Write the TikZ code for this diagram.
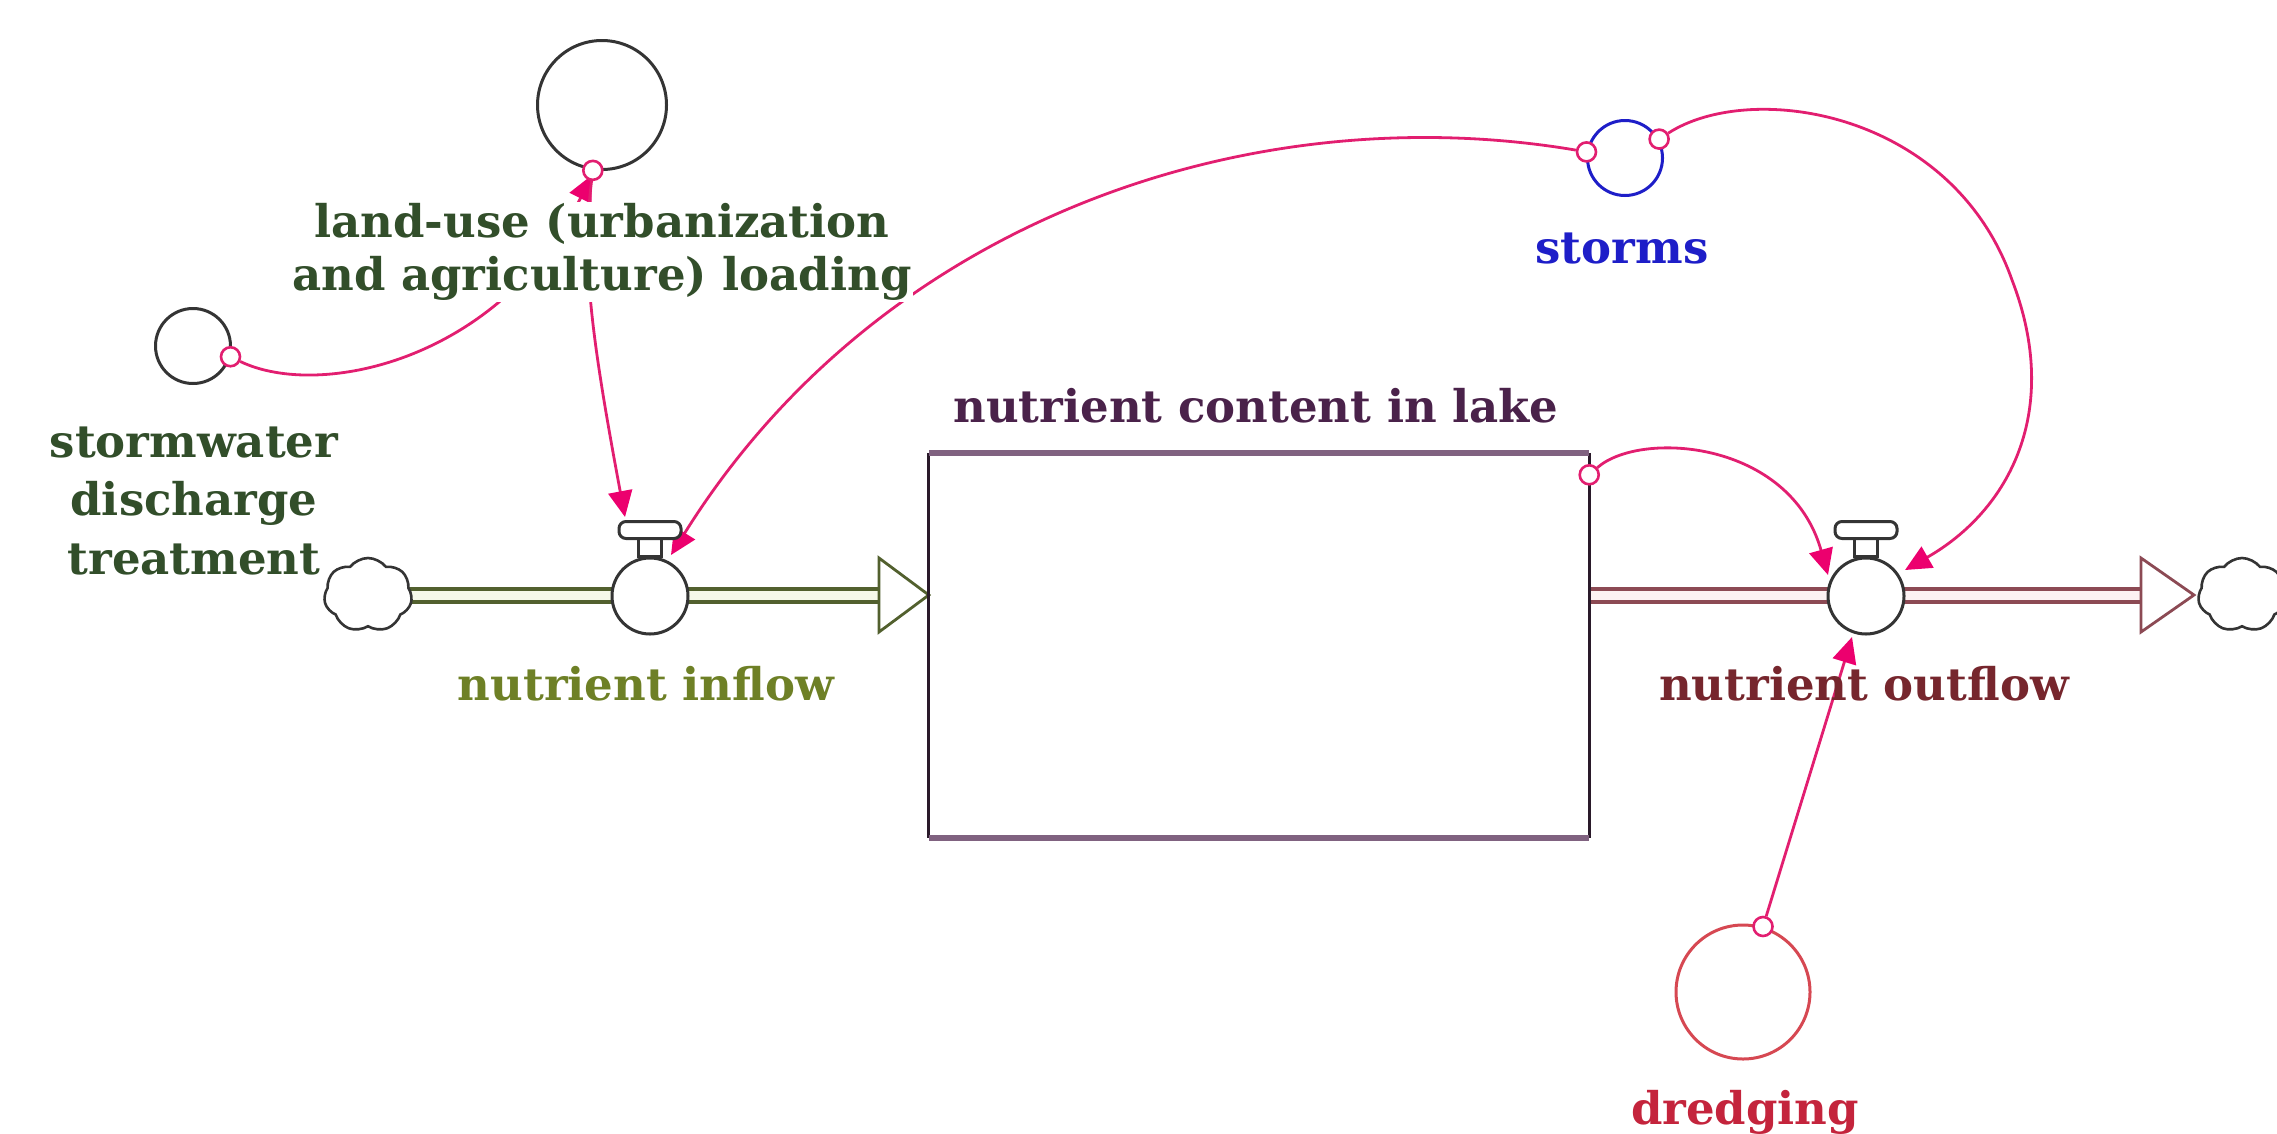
\documentclass[tikz,border=0pt]{standalone}
\usepackage{fontspec}
\setmainfont{DejaVu Serif}
\usetikzlibrary{arrows.meta,shapes.symbols,calc}
\definecolor{pinkC}{RGB}{226,30,112}
\definecolor{arrowC}{RGB}{236,0,110}
\definecolor{luGreen}{RGB}{50,78,42}
\definecolor{inGreen}{RGB}{110,128,38}
\definecolor{lakeTxt}{RGB}{74,34,74}
\definecolor{lakeEdge}{RGB}{128,98,128}
\definecolor{lakeSide}{RGB}{42,26,42}
\definecolor{stormBlue}{RGB}{30,30,200}
\definecolor{outRed}{RGB}{118,38,45}
\definecolor{dredgeTxt}{RGB}{196,36,60}
\definecolor{dredgeC}{RGB}{214,72,82}
\definecolor{pipeG}{RGB}{82,96,46}
\definecolor{pipeGfill}{RGB}{246,249,234}
\definecolor{pipeR}{RGB}{140,74,84}
\definecolor{pipeRfill}{RGB}{252,242,243}
\definecolor{greyC}{RGB}{52,52,52}
\pgfdeclarelayer{bg}
\pgfdeclarelayer{links}
\pgfsetlayers{bg,links,main}
\begin{document}
\begin{tikzpicture}[x=1pt,y=-1pt,
  lbl/.style={font=\fontsize{45}{53}\selectfont\bfseries, inner sep=1pt, align=center},
  conv/.style={circle, draw=greyC, line width=3pt, fill=white, inner sep=0pt},
  orig/.style={circle, draw=pinkC, line width=2.6pt, fill=white, inner sep=0pt, minimum size=19pt},
  conn/.style={draw=pinkC, line width=2.8pt, -{Triangle[length=26pt,width=24pt,color=arrowC]}},
  valve/.style={circle, draw=greyC, line width=3pt, fill=white, inner sep=0pt, minimum size=76pt},
  valvepart/.style={draw=greyC, line width=3pt, fill=white},
  cloudC/.style={cloud, cloud puffs=7, cloud puff arc=105, cloud ignores aspect, draw=greyC, line width=2.6pt, fill=white, minimum width=88pt, minimum height=74pt, inner sep=0pt},
  pipeIn/.style={draw=pipeG, line width=4pt, double=pipeGfill, double distance=9pt},
  pipeOut/.style={draw=pipeR, line width=4pt, double=pipeRfill, double distance=9pt},
  headIn/.style={draw=pipeG, line width=2.8pt, fill=white, line join=miter},
  headOut/.style={draw=pipeR, line width=2.8pt, fill=white, line join=miter},
]
\useasboundingbox (0,0) rectangle (2277,1133);

% ---------- main nodes
\node[cloudC] (src) at (368,595) {};
\node[cloudC] (sink) at (2242,595) {};
\node[valve] (vin) at (650,596) {};
\node[valve] (vout) at (1866,596) {};
\node[minimum width=660pt, minimum height=385pt, inner sep=0pt] (lake) at (1259,645.5) {};
\node[conv, minimum size=129pt] (landuse) at (602,105) {};
\node[conv, minimum size=75pt] (sw) at (193,346) {};
\node[conv, draw=stormBlue, minimum size=75pt] (storms) at (1625,158) {};
\node[conv, draw=dredgeC, minimum size=134pt] (dredge) at (1743,992) {};

% ---------- stock
\draw[line width=3pt, draw=lakeSide] (lake.north west) -- (lake.south west)
      (lake.north east) -- (lake.south east);
\draw[line width=6pt, draw=lakeEdge] (lake.north west) -- (lake.north east)
      (lake.south west) -- (lake.south east);

% ---------- valve handles
\draw[valvepart] ([xshift=-11.5pt]vin.north) rectangle ([xshift=11.5pt,yshift=18pt]vin.north);
\draw[valvepart, rounded corners=7pt] ([xshift=-31pt,yshift=18pt]vin.north) rectangle ([xshift=31pt,yshift=35pt]vin.north);
\draw[valvepart] ([xshift=-11.5pt]vout.north) rectangle ([xshift=11.5pt,yshift=18pt]vout.north);
\draw[valvepart, rounded corners=7pt] ([xshift=-31pt,yshift=18pt]vout.north) rectangle ([xshift=31pt,yshift=35pt]vout.north);

% ---------- pipes
\coordinate (inbase) at (879,595);
\coordinate (outbase) at (2141,595);
\coordinate (outstart) at (lake.east |- outbase);
\coordinate (intip) at (lake.west |- inbase);
\begin{pgfonlayer}{bg}
\draw[pipeIn] (src.center) -- (inbase);
\draw[headIn] ([yshift=37pt]inbase) -- (intip) -- ([yshift=-37pt]inbase) -- cycle;
\draw[pipeOut] (outstart) -- (outbase);
\draw[headOut] ([yshift=37pt]outbase) -- ([xshift=53pt]outbase) -- ([yshift=-37pt]outbase) -- cycle;
\end{pgfonlayer}

% ---------- connector origins
\node[orig] (o_lu) at (landuse.-98) {};
\node[orig] (o_sw) at (sw.-16) {};
\node[orig] (o_stL) at (storms.171) {};
\node[orig] (o_stR) at (storms.29) {};
\node[orig] (o_lake) at ([yshift=-22pt]lake.north east) {};
\node[orig] (o_dr) at (dredge.73) {};

% ---------- connector ends
\coordinate (t_sw) at (592,175);
\coordinate (t_lu) at (625,517);
\coordinate (t_stIn) at (671,555);
\coordinate (t_lake) at (1828,575);
\coordinate (t_stOut) at (1905,570);
\coordinate (t_dr) at (1852,637);
\coordinate (m_stOut) at (2012,280);

\begin{pgfonlayer}{links}
\draw[conn] (o_sw) .. controls (320,400) and (500,360) .. (t_sw);
\draw[conn] (o_lu) .. controls (582,260) and (590,330) .. (t_lu);
\draw[conn] (o_stL) .. controls (1250,95) and (880,220) .. (t_stIn);
\draw[conn] (o_stR) .. controls (1750,80) and (1952,110) .. (m_stOut) .. controls (2062,410) and (2010,510) .. (t_stOut);
\draw[conn] (o_lake) .. controls (1640,430) and (1790,440) .. (t_lake);
\draw[conn] (o_dr) -- (t_dr);
\end{pgfonlayer}

% ---------- labels
\node[lbl, text=luGreen, fill=white] (lu_l) at (602,252) {land-use (urbanization\\and agriculture) loading};
\node[lbl, text=luGreen, font=\fontsize{45}{58.5}\selectfont\bfseries] (sw_l) at (194,501) {stormwater\\discharge\\treatment};
\node[lbl, text=stormBlue, anchor=base] (st_l) at (1622,263) {storms};
\node[lbl, text=lakeTxt, anchor=base] (lake_l) at (1256,422) {nutrient content in lake};
\node[lbl, text=inGreen, anchor=base] (vin_l) at (646,700) {nutrient inflow};
\node[lbl, text=outRed, anchor=base] (vout_l) at (1864,700) {nutrient outflow};
\node[lbl, text=dredgeTxt, anchor=base] (dr_l) at (1745,1124) {dredging};
\end{tikzpicture}
\end{document}
